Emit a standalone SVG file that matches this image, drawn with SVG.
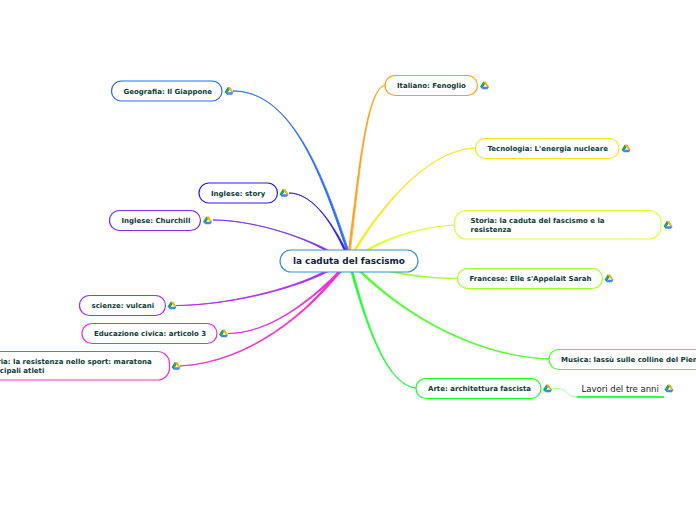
<svg xmlns="http://www.w3.org/2000/svg" width="696" height="520" viewBox="0 0 696 520">
<style>
text{font-family:"DejaVu Sans",Verdana,sans-serif;font-size:7px;font-weight:700;fill:#0b3b36}
.n{fill:#fff;stroke-width:1.2}
.c{stroke-width:.8;stroke-linejoin:round}
.t{font-size:8.900px;fill:#10204a}
.p{font-size:8.500px;font-weight:400;fill:#222}
</style>
<defs>
<g id="d">
<polygon points="-1.300,-4 1.300,-4 4.500,1.200 3,1.800 0,-1.800" fill="#f7b500"/>
<polygon points="-1.300,-4 0.500,-1.600 -2.400,3.600 -4.500,1.200" fill="#1fa463"/>
<polygon points="-2.600,3.800 -1.300,1.200 4.500,1.200 3,3.800" fill="#4285f4"/>
</g>
</defs>
<g id="connectors">
<path class="c" fill="#2a6bff" stroke="#2a6bff" d="M233 91C290 91 320 170 346.500 250L348.500 250C322 170 290 91 233 91Z"/>
<path class="c" fill="#2a1aff" stroke="#2a1aff" d="M289 193C315 193 335 230 344 250L346 250C336 230 315 193 289 193Z"/>
<path class="c" fill="#7a2bff" stroke="#7a2bff" d="M213 220C250 220 300 235 327 251.500L329 250.500C300 235 250 220 213 220Z"/>
<path class="c" fill="#a82bff" stroke="#a82bff" d="M176 305.500C225 305 290 290 326 270.500L328.500 271.500C290 291 225 305.500 176 305.500Z"/>
<path class="c" fill="#e62be6" stroke="#e62be6" d="M228 333.500C270 333 310 300 339 271L341.500 272C310 301 270 333.500 228 333.500Z"/>
<path class="c" fill="#ff2bc8" stroke="#ff2bc8" d="M180 366C250 362 310 310 338 271L340.500 272C310 311 250 363 180 366Z"/>
<path class="c" fill="#ff9f1a" stroke="#ff9f1a" d="M385 85C365 90 358 180 348.500 250L350.500 250C359 180 366 90 385 85Z"/>
<path class="c" fill="#ffe61a" stroke="#ffe61a" d="M475 148C430 150 385 200 354 250L356 250C386 201 430 150 475 148Z"/>
<path class="c" fill="#e0ff2a" stroke="#e0ff2a" d="M454 225C420 227 385 238 366 250L368.500 251C386 239 420 227 454 225Z"/>
<path class="c" fill="#a0ff2a" stroke="#a0ff2a" d="M457 278.500C430 278 410 275 390 270.500L390 272C410 276 430 278.500 457 278.500Z"/>
<path class="c" fill="#4dff2a" stroke="#4dff2a" d="M549 359C480 357 410 320 359.500 272L361.500 271C410 319 480 356 549 359Z"/>
<path class="c" fill="#1aff2a" stroke="#1aff2a" d="M416 388C385 385 365 320 351 272L353 271.500C366 320 386 385 416 388Z"/>
<path fill="none" stroke="#9dff9d" stroke-width="1" d="M553 388C570 388 565 397 577 397"/>
</g>
<g id="n-centro"><rect class="n" x="280" y="250" width="138" height="22" rx="11" stroke="#3a8fd6"/><text class="t" x="293" y="264">la caduta del fascismo</text></g>
<g id="n-geografia"><rect class="n" x="111.500" y="81" width="110.500" height="20" rx="10" stroke="#2a6bff"/><text x="123.500" y="93.500">Geografia: Il Giappone</text><use href="#d" x="229" y="91"/></g>
<g id="n-story"><rect class="n" x="199" y="183" width="78.500" height="20" rx="10" stroke="#2a1aff"/><text x="211" y="195.500">Inglese: story</text><use href="#d" x="284" y="193"/></g>
<g id="n-churchill"><rect class="n" x="109.500" y="210.500" width="91" height="20" rx="10" stroke="#7a2bff"/><text x="121.500" y="223">Inglese: Churchill</text><use href="#d" x="207.500" y="220.500"/></g>
<g id="n-scienze"><rect class="n" x="79.500" y="295.500" width="86" height="20" rx="10" stroke="#a82bff"/><text x="91.500" y="308">scienze: vulcani</text><use href="#d" x="172" y="305.500"/></g>
<g id="n-educazione"><rect class="n" x="82" y="323.500" width="135" height="20" rx="10" stroke="#e62be6"/><text x="94" y="336">Educazione civica: articolo 3</text><use href="#d" x="223.500" y="333.500"/></g>
<g id="n-sport"><rect class="n" x="-40" y="351.500" width="209.500" height="28.500" rx="12" stroke="#ff2bc8"/><text x="-16" y="364">Storia: la resistenza nello sport: maratona</text><text x="-16" y="373">principali atleti</text><use href="#d" x="176" y="366"/></g>
<g id="n-italiano"><rect class="n" x="385" y="75.500" width="92.500" height="20" rx="10" stroke="#ff9f1a"/><text x="397" y="88">Italiano: Fenoglio</text><use href="#d" x="484.500" y="85.500"/></g>
<g id="n-tecnologia"><rect class="n" x="475.500" y="138.500" width="143.500" height="20" rx="10" stroke="#ffe61a"/><text x="487.500" y="151">Tecnologia: L'energia nucleare</text><use href="#d" x="626" y="148.500"/></g>
<g id="n-storia"><rect class="n" x="454.500" y="210.500" width="206.500" height="28.500" rx="12" stroke="#e0ff2a"/><text x="470.500" y="223">Storia: la caduta del fascismo e la</text><text x="470.500" y="232">resistenza</text><use href="#d" x="668" y="225"/></g>
<g id="n-francese"><rect class="n" x="457.500" y="268.500" width="145" height="20" rx="10" stroke="#a0ff2a"/><text x="469.500" y="281">Francese: Elle s'Appelait Sarah</text><use href="#d" x="609" y="278.500"/></g>
<g id="n-musica"><rect class="n" x="549" y="349.500" width="190" height="20" rx="10" stroke="#4dff2a"/><text x="561" y="362">Musica: lassù sulle colline del Piemonte</text></g>
<g id="n-arte"><rect class="n" x="416" y="378.500" width="125" height="20" rx="10" stroke="#1aff2a"/><text x="428" y="391">Arte: architettura fascista</text><use href="#d" x="547.500" y="388.500"/></g>
<g id="n-lavori"><text class="p" x="581.500" y="391.500">Lavori del tre anni</text><line x1="577" y1="397" x2="664" y2="397" stroke="#2bff4a" stroke-width="2"/><use href="#d" x="669" y="388.500"/></g>
</svg>
